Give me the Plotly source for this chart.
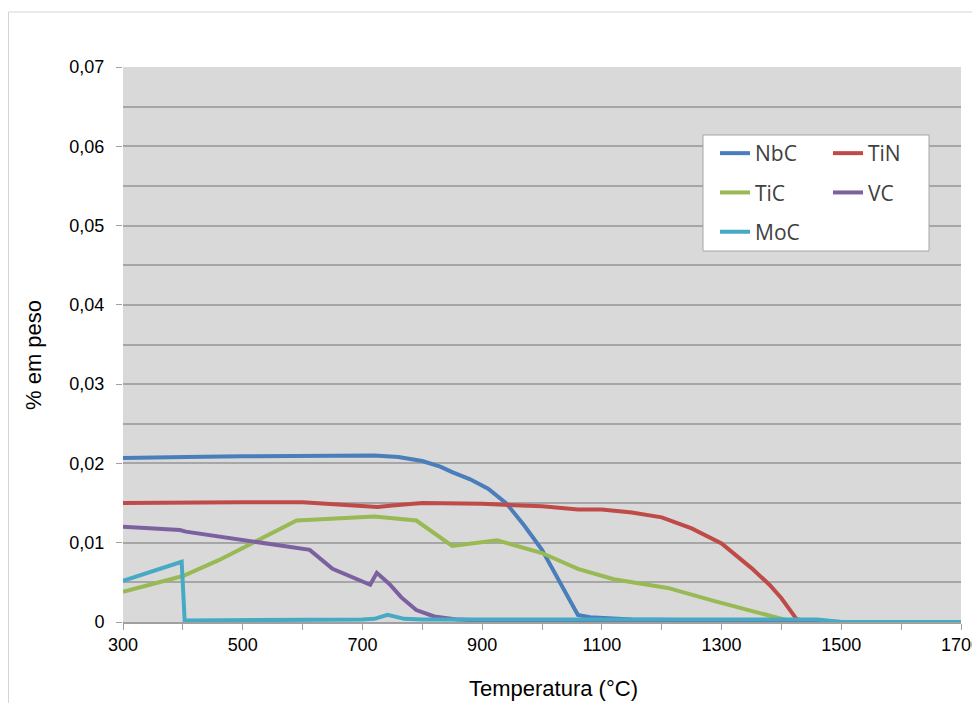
import plotly.graph_objects as go

# ---- data ----
nbc_t = [300, 395, 405, 500, 600, 700, 720, 760, 800, 830, 850, 880, 910, 940, 970, 1000, 1030, 1060, 1080, 1150, 1300, 1450, 1500, 1700]
nbc_v = [0.0207, 0.0207, 0.0208, 0.0209, 0.0210, 0.0210, 0.0210, 0.0208, 0.0203, 0.0196, 0.0189, 0.0180, 0.0168, 0.0150, 0.0122, 0.0091, 0.0051, 0.0009, 0.0006, 0.0003, 0.0002, 0.0002, 0.0, 0.0]

tin_t = [300, 400, 500, 600, 650, 700, 725, 750, 800, 900, 950, 1000, 1060, 1100, 1150, 1200, 1250, 1300, 1350, 1380, 1400, 1425, 1440, 1700]
tin_v = [0.0150, 0.0151, 0.0151, 0.0151, 0.0149, 0.0147, 0.0145, 0.0147, 0.0150, 0.0149, 0.0148, 0.0146, 0.0142, 0.0142, 0.0138, 0.0132, 0.0118, 0.0099, 0.0068, 0.0047, 0.0030, 0.0004, 0.0, 0.0]

tic_t = [300, 400, 460, 500, 550, 590, 720, 790, 850, 925, 1000, 1060, 1120, 1210, 1290, 1400, 1420, 1700]
tic_v = [0.0038, 0.0058, 0.0078, 0.0093, 0.0112, 0.0128, 0.0133, 0.0128, 0.0096, 0.0103, 0.0087, 0.0067, 0.0054, 0.0043, 0.0026, 0.0004, 0.0, 0.0]

vc_t = [300, 395, 405, 500, 612, 650, 713, 724, 745, 765, 790, 820, 860, 900, 1000, 1100, 1700]
vc_v = [0.0120, 0.0116, 0.0114, 0.0103, 0.0091, 0.0067, 0.0047, 0.0062, 0.0048, 0.0031, 0.0015, 0.0007, 0.0003, 0.0002, 0.0001, 0.0, 0.0]

moc_t = [300, 398, 403, 500, 600, 700, 720, 742, 770, 800, 900, 1100, 1460, 1500, 1700]
moc_v = [0.0052, 0.0076, 0.0002, 0.0002, 0.0002, 0.0003, 0.0004, 0.0009, 0.0004, 0.0003, 0.0003, 0.0003, 0.0003, 0.0, 0.0]

series = [
    ("NbC", nbc_t, nbc_v, "#4a7ebb", "legend"),
    ("TiN", tin_t, tin_v, "#be4b48", "legend2"),
    ("TiC", tic_t, tic_v, "#98b954", "legend"),
    ("VC", vc_t, vc_v, "#7d60a0", "legend2"),
    ("MoC", moc_t, moc_v, "#46aac5", "legend"),
]

# page body has an 8px margin, so the figure is sized to fill the rest
W, H = 972, 695
L, R, T, B = 115, 19, 59, 81
PW, PH = W - L - R, H - T - B
OFF = 8  # body margin offset on screen

def px(x):  # screen x -> paper
    return (x - OFF - L) / PW

def py(y):  # screen y -> paper
    return (H - B - (y - OFF)) / PH

fig = go.Figure()
for name, t, v, col, lg in series:
    fig.add_trace(go.Scatter(
        x=t, y=v, name=name, mode="lines",
        line=dict(color=col, width=4),
        legend=lg, legendgroup=name,
    ))

tick_font = dict(family="Liberation Sans, Arial, sans-serif", size=18, color="#000000")
title_font = dict(family="Liberation Sans, Arial, sans-serif", size=22, color="#000000")
legend_font = dict(family="Open Sans, Noto Sans, sans-serif", size=21, color="#404040")

fig.update_layout(
    width=W, height=H,
    margin=dict(l=L, r=R, t=T, b=B),
    paper_bgcolor="white",
    plot_bgcolor="#d9d9d9",
    separators=",.",
    xaxis=dict(
        range=[300, 1700], tick0=300, dtick=200,
        ticks="outside", ticklen=6, tickcolor="#a0a0a0", tickwidth=1,
        showgrid=False, zeroline=False,
        showline=True, linecolor="#a0a0a0", linewidth=1.5,
        minor=dict(dtick=100, ticks="outside", ticklen=6, tickcolor="#a0a0a0", showgrid=False),
        tickfont=tick_font, ticklabelstandoff=0, automargin=False,
        ticklabeloverflow="allow",
    ),
    yaxis=dict(
        range=[0, 0.07], dtick=0.01,
        ticks="outside", ticklen=6, tickcolor="#a0a0a0",
        showgrid=True, gridcolor="#a6a6a6", gridwidth=1.5,
        zeroline=False, showline=False,
        minor=dict(dtick=0.005, showgrid=True, gridcolor="#a6a6a6", gridwidth=1.5),
        tickfont=tick_font, ticklabelstandoff=8, automargin=False,
    ),
    legend=dict(
        x=px(715), xanchor="left", y=py(133), yanchor="top",
        bgcolor="rgba(0,0,0,0)", borderwidth=0, font=legend_font,
        tracegroupgap=9, orientation="v",
    ),
    legend2=dict(
        x=px(828), xanchor="left", y=py(133), yanchor="top",
        bgcolor="rgba(0,0,0,0)", borderwidth=0, font=legend_font,
        tracegroupgap=9, orientation="v",
    ),
    annotations=[
        dict(text="Temperatura (°C)", xref="paper", yref="paper",
             x=px(553), y=py(688), xanchor="center", yanchor="middle",
             showarrow=False, font=title_font),
        dict(text="% em peso", xref="paper", yref="paper",
             x=px(33), y=py(355), xanchor="center", yanchor="middle",
             textangle=-90, showarrow=False, font=title_font),
    ],
    shapes=[
        dict(type="rect", xref="paper", yref="paper",
             x0=px(8.5), x1=px(1000), y0=py(730), y1=py(12),
             line=dict(color="#d4d4d4", width=1), fillcolor="rgba(0,0,0,0)", layer="below"),
        dict(type="rect", xref="paper", yref="paper",
             x0=px(703), x1=px(929), y0=py(251), y1=py(135),
             line=dict(color="#a6a6a6", width=1), fillcolor="white", layer="above"),
    ],
)

fig.write_html("out.html")
